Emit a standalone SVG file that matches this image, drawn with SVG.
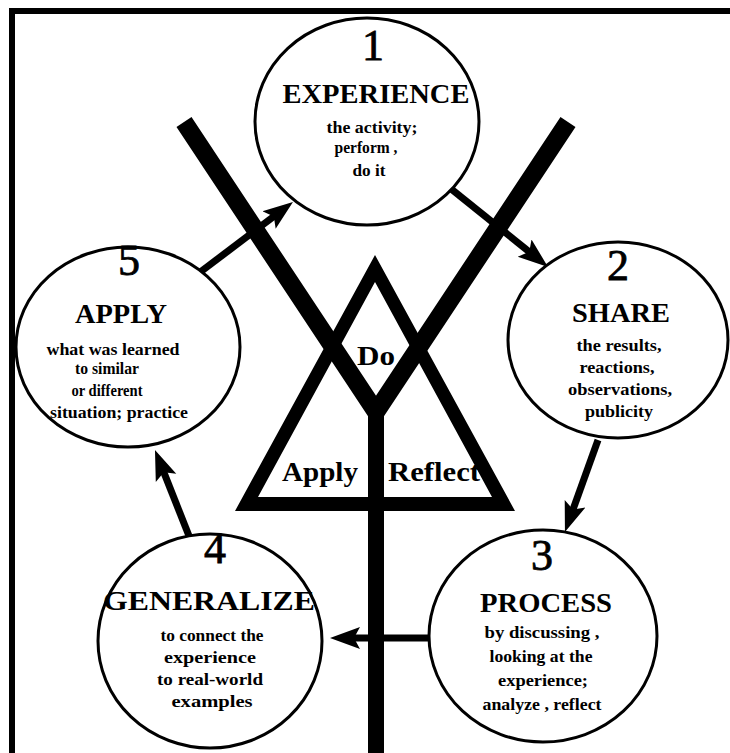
<svg xmlns="http://www.w3.org/2000/svg" width="730" height="753" viewBox="0 0 730 753">
<style>
.circ{fill:#fff;stroke:#000;stroke-width:3}
.num{font-family:"Liberation Serif",serif;font-size:44px;text-anchor:middle;fill:#000;stroke:#000;stroke-width:0.8}
.head{font-family:"Liberation Serif",serif;font-size:28px;font-weight:bold;text-anchor:middle;fill:#000}
.body{font-family:"Liberation Serif",serif;font-size:17.5px;font-weight:bold;text-anchor:middle;fill:#000}
.mid{font-family:"Liberation Serif",serif;font-size:27px;font-weight:bold;text-anchor:middle;fill:#000}
.arr{stroke:#000;stroke-width:7;fill:none}
.thick{stroke:#000;fill:none;stroke-linejoin:miter}
</style>
<defs>
<marker id="ah" markerUnits="userSpaceOnUse" markerWidth="32" markerHeight="24" viewBox="0 0 32 24" refX="15" refY="12" orient="auto">
<path d="M30,12 L0,1 L6,12 L0,23 Z" fill="#000"/>
</marker>
</defs>
<rect width="730" height="753" fill="#fff"/>
<g id="border">
<rect x="9" y="8" width="721" height="6" fill="#000"/>
<rect x="9" y="8" width="6" height="745" fill="#000"/>
</g>
<g id="connectors">
<path class="thick" d="M184,122 L376,412 L568,122" stroke-width="18"/>
<line class="thick" x1="376" y1="405" x2="376" y2="753" stroke-width="16"/>
<path d="M375,255 L235,511 L515,511 Z M375,282 L258,497 L492,497 Z" fill="#000" fill-rule="evenodd"/>
<line class="arr" x1="440" y1="180" x2="536.3" y2="257.5" marker-end="url(#ah)"/>
<line class="arr" x1="598" y1="440" x2="570" y2="517.9" marker-end="url(#ah)"/>
<line class="arr" x1="432" y1="638" x2="345" y2="638" marker-end="url(#ah)"/>
<line class="arr" x1="193" y1="546" x2="160.5" y2="463.9" marker-end="url(#ah)"/>
<line class="arr" x1="195" y1="276" x2="281" y2="211" marker-end="url(#ah)"/>
</g>
<g id="center">
<text class="mid" x="376" y="365" textLength="38" lengthAdjust="spacingAndGlyphs">Do</text>
<text class="mid" x="320" y="481" textLength="76" lengthAdjust="spacingAndGlyphs">Apply</text>
<text class="mid" x="434" y="481" textLength="92" lengthAdjust="spacingAndGlyphs">Reflect</text>
</g>
<g id="node1">
<ellipse class="circ" cx="367" cy="121.5" rx="112" ry="103.5"/>
<text class="num" x="373" y="60">1</text>
<text class="head" x="376" y="103" textLength="187" lengthAdjust="spacingAndGlyphs">EXPERIENCE</text>
<text class="body" x="372" y="133" textLength="91" lengthAdjust="spacingAndGlyphs">the activity;</text>
<text class="body" x="366" y="153" textLength="63" lengthAdjust="spacingAndGlyphs">perform ,</text>
<text class="body" x="369" y="176" textLength="33" lengthAdjust="spacingAndGlyphs">do it</text>
</g>
<g id="node2">
<ellipse class="circ" cx="618" cy="340" rx="110" ry="98"/>
<text class="num" x="618" y="280">2</text>
<text class="head" x="621" y="322" textLength="98" lengthAdjust="spacingAndGlyphs">SHARE</text>
<text class="body" x="619" y="351" textLength="85" lengthAdjust="spacingAndGlyphs">the results,</text>
<text class="body" x="617" y="373" textLength="75" lengthAdjust="spacingAndGlyphs">reactions,</text>
<text class="body" x="620" y="395" textLength="104" lengthAdjust="spacingAndGlyphs">observations,</text>
<text class="body" x="619" y="417" textLength="68" lengthAdjust="spacingAndGlyphs">publicity</text>
</g>
<g id="node3">
<ellipse class="circ" cx="543" cy="636" rx="114" ry="106"/>
<text class="num" x="542" y="570">3</text>
<text class="head" x="546" y="612" textLength="132" lengthAdjust="spacingAndGlyphs">PROCESS</text>
<text class="body" x="542" y="638" textLength="115" lengthAdjust="spacingAndGlyphs">by discussing ,</text>
<text class="body" x="541" y="662" textLength="103" lengthAdjust="spacingAndGlyphs">looking at the</text>
<text class="body" x="543" y="686" textLength="90" lengthAdjust="spacingAndGlyphs">experience;</text>
<text class="body" x="542" y="710" textLength="119" lengthAdjust="spacingAndGlyphs">analyze , reflect</text>
</g>
<g id="node4">
<ellipse class="circ" cx="210" cy="641" rx="112" ry="107"/>
<text class="num" x="215" y="563">4</text>
<text class="head" x="209" y="610" textLength="212" lengthAdjust="spacingAndGlyphs">GENERALIZE</text>
<text class="body" x="212" y="641" textLength="103" lengthAdjust="spacingAndGlyphs">to connect the</text>
<text class="body" x="210" y="663" textLength="92" lengthAdjust="spacingAndGlyphs">experience</text>
<text class="body" x="210" y="685" textLength="106" lengthAdjust="spacingAndGlyphs">to real-world</text>
<text class="body" x="212" y="707" textLength="81" lengthAdjust="spacingAndGlyphs">examples</text>
</g>
<g id="node5">
<ellipse class="circ" cx="128" cy="347" rx="112" ry="100"/>
<text class="num" x="129" y="275">5</text>
<text class="head" x="121" y="323" textLength="92" lengthAdjust="spacingAndGlyphs">APPLY</text>
<text class="body" x="113" y="355" textLength="133" lengthAdjust="spacingAndGlyphs">what was learned</text>
<text class="body" x="107" y="374" textLength="64" lengthAdjust="spacingAndGlyphs">to similar</text>
<text class="body" x="107" y="396" textLength="71" lengthAdjust="spacingAndGlyphs">or different</text>
<text class="body" x="119" y="418" textLength="138" lengthAdjust="spacingAndGlyphs">situation; practice</text>
</g>
</svg>
